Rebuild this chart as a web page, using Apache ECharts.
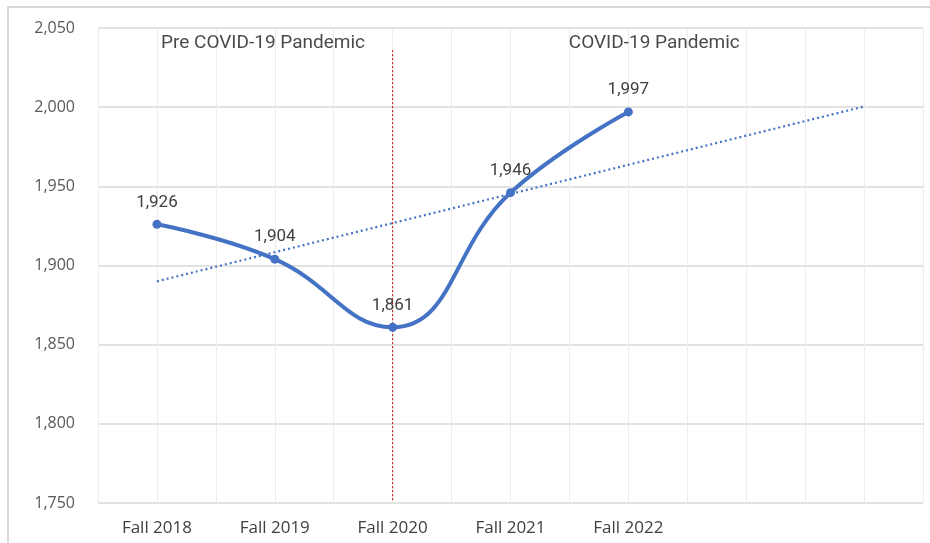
<!DOCTYPE html>
<html><head><meta charset="utf-8">
<script src="https://cdn.jsdelivr.net/npm/echarts@6/dist/echarts.min.js"></script>
<style>html,body{margin:0;padding:0;background:#fff}#c{width:930px;height:543px}</style>
</head><body><div id="c"></div>
<script>
const categories = ['Fall 2018','Fall 2019','Fall 2020','Fall 2021','Fall 2022','',''];
const enrollment = [1926, 1904, 1861, 1946, 1997];
const trendStart = [0, 1890];
const trendEnd = [6, 2000.4];
const dividerX = 2;
const dividerRange = [2036, 1751];
const annotations = [
  {text: 'Pre COVID-19 Pandemic', x: 0.9, y: 2040.5},
  {text: 'COVID-19 Pandemic', x: 4.22, y: 2040.5}
];
const yTicks = {min: 1750, max: 2050, interval: 50};

const chart = echarts.init(document.getElementById('c'), null, {renderer: 'canvas'});
const font = 'Roboto, "Noto Sans", sans-serif';
const axisFont = '"Open Sans", Roboto, sans-serif';
chart.setOption({
  animation: false,
  backgroundColor: '#fff',
  graphic: [{type: 'rect', shape: {x: 8, y: 7, width: 940, height: 560}, style: {fill: 'none', stroke: '#d9d9d9', lineWidth: 2}, silent: true}],
  grid: {left: 98, right: 7, top: 28, bottom: 40, containLabel: false},
  xAxis: {
    type: 'value', min: -0.5, max: 6.5, interval: 0.5,
    axisLine: {show: false}, axisTick: {show: false},
    splitLine: {show: true, lineStyle: {color: '#ececec', width: 1}},
    axisLabel: {
      color: '#404040', fontSize: 17, fontFamily: axisFont, margin: 17,
      showMinLabel: false, showMaxLabel: false,
      formatter: v => (Number.isInteger(v) && categories[v]) ? categories[v] : ''
    }
  },
  yAxis: {
    type: 'value', min: yTicks.min, max: yTicks.max, interval: yTicks.interval,
    axisLine: {show: false}, axisTick: {show: false},
    splitLine: {lineStyle: {color: '#d9d9d9', width: 1.5}},
    axisLabel: {color: '#595959', fontSize: 16, fontFamily: axisFont, margin: 23,
      formatter: v => v.toLocaleString('en-US')}
  },
  series: [
    {
      type: 'line', z: 3,
      data: [trendStart, trendEnd],
      symbol: 'none',
      lineStyle: {color: '#4472C4', width: 2.2, type: [2, 3]}
    },
    {
      type: 'line', z: 2,
      data: [[dividerX, dividerRange[0]], [dividerX, dividerRange[1]]],
      symbol: 'none',
      lineStyle: {color: '#C00000', width: 1, type: [2, 2]}
    },
    {
      type: 'line', z: 5,
      data: enrollment.map((v, i) => [i, v]),
      smooth: 0.45,
      symbol: 'circle', symbolSize: 9,
      itemStyle: {color: '#4472C4'},
      lineStyle: {color: '#4472C4', width: 4},
      label: {show: true, position: 'top', distance: 9, color: '#404040', fontSize: 17, fontFamily: font,
        formatter: p => p.value[1].toLocaleString('en-US')}
    },
    {
      type: 'scatter', symbolSize: 0, z: 6,
      data: annotations.map(a => ({value: [a.x, a.y], name: a.text})),
      label: {show: true, position: 'inside', color: '#1a1a1a', fontSize: 19, fontFamily: font,
        formatter: p => p.name}
    }
  ]
});
</script></body></html>
